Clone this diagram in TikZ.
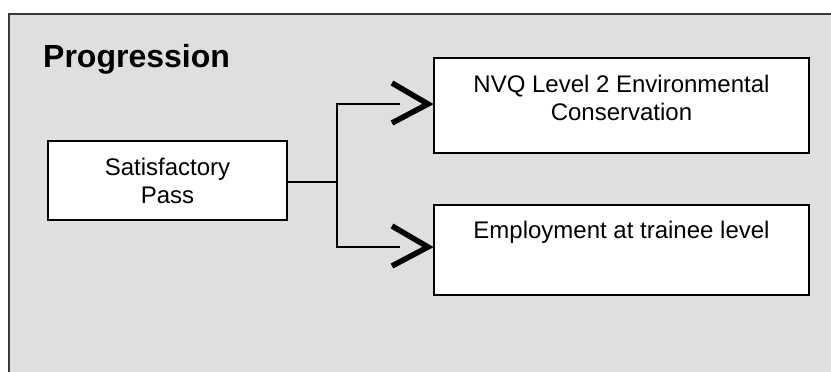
\documentclass[tikz,border=0pt]{standalone}
\usepackage{fontspec}
\setmainfont{Liberation Sans}
\definecolor{panelgray}{HTML}{DFDFDF}
\definecolor{framegray}{HTML}{3A3A3A}
\tikzset{
  boxnode/.style={draw=black, line width=2pt, fill=white, inner sep=0pt},
  txt/.style={font=\fontsize{24}{28}\selectfont, align=center, inner sep=0pt, text=black},
  conn/.style={draw=black, line width=2pt},
  chev/.style={draw=black, line width=5.5pt, line join=miter, line cap=butt}
}
\begin{document}
\begin{tikzpicture}[x=1pt, y=-1pt]
  \useasboundingbox (0,0) rectangle (831,372);
  \fill[white] (0,0) rectangle (831,372);
  \begin{scope}
    \clip (0,0) rectangle (831,372);
    \draw[framegray, line width=2pt, fill=panelgray] (9,14) rectangle (860,400);
  \end{scope}
  \node[anchor=base west, inner sep=0pt, font=\fontsize{32}{36}\selectfont\bfseries] (title) at (43,67) {Progression};

  \node[boxnode, minimum width=239pt, minimum height=79pt, txt] (sat) at (167.5,180.5) {Satisfactory\\Pass};
  \node[boxnode, minimum width=375pt, minimum height=95pt] (nvq) at (621.5,105.5) {};
  \node[boxnode, minimum width=375pt, minimum height=90pt] (emp) at (621.5,250) {};
  \node[txt, anchor=north] (nvqt) at ([yshift=-18pt]nvq.north) {NVQ Level 2 Environmental\\Conservation};
  \node[txt, anchor=north] (empt) at ([yshift=-17pt]emp.north) {Employment at trainee level};

  \coordinate (j) at (337,182);
  \coordinate (na) at ([yshift=1.5pt]nvq.west);
  \coordinate (ea) at ([yshift=3pt]emp.west);
  \draw[conn] (sat.east |- j) -- (j);
  \draw[conn, shorten >=33pt] (j) |- (na);
  \draw[conn, shorten >=33pt] (j) |- (ea);
  \draw[chev] ([shift={(-41,-21)}]na) -- ([shift={(-5,0)}]na) -- ([shift={(-41,19)}]na);
  \draw[chev] ([shift={(-41,-21)}]ea) -- ([shift={(-5,0)}]ea) -- ([shift={(-41,19)}]ea);
\end{tikzpicture}
\end{document}
